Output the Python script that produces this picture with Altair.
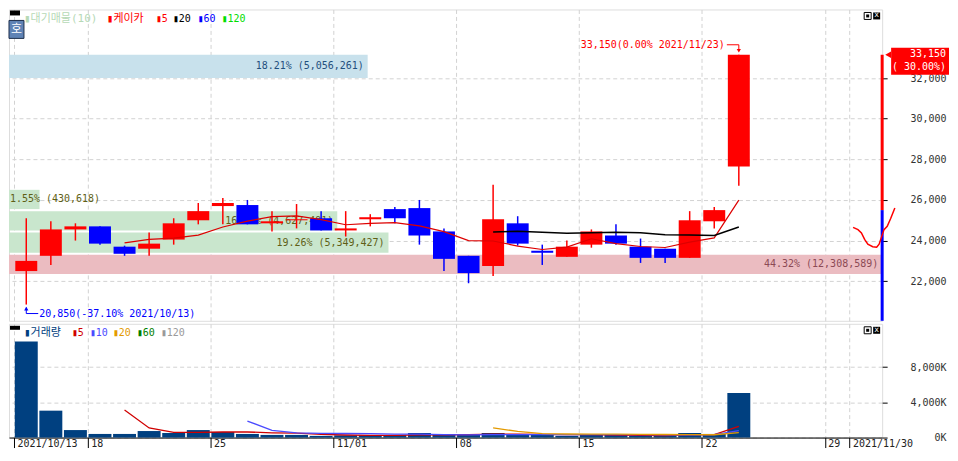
import pandas as pd
import altair as alt

# ---- data (케이카, daily) ----
year = "2021"
dates = ["10/13", "10/14", "10/15", "10/18", "10/19", "10/20", "10/21", "10/22",
         "10/25", "10/26", "10/27", "10/28", "10/29", "11/01", "11/02", "11/03",
         "11/04", "11/05", "11/08", "11/09", "11/10", "11/11", "11/12", "11/15",
         "11/16", "11/17", "11/18", "11/19", "11/22", "11/23"]
opens = [22500, 23250, 24550, 24700, 23700, 23600, 24050, 25000, 25700, 25750,
         24850, 25000, 25100, 24500, 25050, 25550, 25600, 24450, 23250, 22750,
         24850, 23500, 23200, 23800, 24250, 23700, 23600, 23150, 24950, 27650]
highs = [25100, 24950, 24850, 24700, 23750, 24400, 25100, 25850, 26100, 26000,
         25450, 25800, 25450, 25450, 25300, 25650, 26000, 24600, 23250, 26750,
         25200, 23800, 24000, 24550, 24800, 24100, 23600, 25450, 25650, 33150]
lows = [20850, 22800, 24000, 23800, 23250, 23250, 23800, 24800, 24800, 24800,
        24450, 24600, 24500, 24200, 24700, 24850, 23800, 22500, 21900, 22250,
        23750, 22800, 23200, 23650, 23800, 22900, 22900, 23150, 24600, 26700]
closes = [23000, 24550, 24700, 23850, 23350, 23850, 24850, 25450, 25850, 24800,
          24950, 25050, 24500, 24600, 25150, 25100, 24250, 23100, 22400, 25050,
          23850, 23400, 23700, 24450, 23850, 23150, 23150, 25000, 25500, 33150]
volumes_k = [10880, 3050, 850, 410, 410, 740, 520, 850, 630, 410,
             300, 300, 190, 250, 250, 280, 520, 300, 300, 520,
             330, 330, 190, 300, 300, 190, 190, 520, 410, 5050]

# moving averages as drawn (they start where the window is full)
ma5 = [23890, 24060, 24120, 24270, 24670, 24960, 25180, 25220, 25030, 24780,
       24850, 24880, 24720, 24440, 24000, 23980, 23730, 23560, 23680, 24090,
       23850, 23710, 23660, 23920, 24130, 25990]
ma20 = [24420, 24460, 24410, 24360, 24390, 24410, 24380, 24290, 24270, 24250, 24670]
vol_ma5 = [3120, 1092, 586, 586, 630, 630, 542, 498, 366, 290, 258, 254, 298,
           320, 330, 384, 394, 356, 334, 334, 290, 262, 234, 300, 322, 1272]
vol_ma10 = [1875, 817, 542, 476, 460, 444, 398, 398, 343, 310, 321, 324, 327,
            327, 332, 337, 328, 295, 317, 328, 781]
vol_ma20 = [1098, 700, 435, 402, 396, 391, 363, 347, 330, 319, 551]

# overhead supply (대기매물) bands
supply_lo = [22350, 23400, 24500, 25550, 32000]
supply_hi = [23300, 24400, 25450, 26500, 33150]
supply_vol = [12308589, 5349427, 4627491, 430618, 5056261]
supply_pct = [44.32, 19.26, 16.66, 1.55, 18.21]
supply_kind = ["max", "other", "other", "other", "current"]

# little red trace beside the price axis
tail_x = [34.15, 34.35, 34.49, 34.62, 34.75, 34.95, 35.11, 35.21, 35.32, 35.41, 35.54, 35.68, 35.85]
tail_p = [24650, 24540, 24380, 24060, 23820, 23700, 23670, 23820, 24220, 24540, 24700, 25090, 25600]

tick_pos = [0, 3, 8, 13, 18, 23, 28, 33, 34]
tick_lab = ["2021/10/13", "18", "25", "11/01", "08", "15", "22", "29", "2021/11/30"]
price_ticks = [22000, 24000, 26000, 28000, 30000, 32000]
vol_ticks = [0, 4000, 8000]

# ---- look ----
W, H1, H2 = 875, 312, 114
MONO = "DejaVu Sans Mono"
KR = "'DejaVu Sans Mono', 'Noto Sans CJK KR'"
GRID = "#d2d2d2"
RED, BLUE = "#ff0000", "#0000ff"
kind_fill = {"max": "#ebbcc1", "other": "#c9e6cd", "current": "#c8e1ec"}
kind_text = {"max": "#8c4a55", "other": "#5f5f16", "current": "#1f4f7e"}

n = len(dates)
candles = pd.DataFrame({"date": dates, "open": opens, "high": highs, "low": lows,
                        "close": closes, "vol": volumes_k})
candles["xc"] = candles.index + 0.5
candles["col"] = [RED if c >= o else BLUE for o, c in zip(opens, closes)]


def ma_frame(vals):
    start = n - len(vals)
    return pd.DataFrame({"xc": [i + 0.5 for i in range(start, n)], "v": vals})


x_scale = alt.Scale(domain=[0, 35.13], nice=False, zero=False)
p_scale = alt.Scale(domain=[20050, 35380], nice=False, zero=False)
v_scale = alt.Scale(domain=[0, 12900], nice=False, zero=True)

top_x_axis = alt.Axis(values=tick_pos, labels=False, ticks=False, domain=False, grid=True,
                      gridColor=GRID, gridDash=[4, 3], title=None)
label_expr = " : ".join(f"datum.value == {p} ? '{l}'" for p, l in zip(tick_pos, tick_lab)) + " : ''"
bot_x_axis = alt.Axis(values=tick_pos, labelExpr=label_expr, grid=True, gridColor=GRID,
                      gridDash=[4, 3], tickSize=10, tickColor="black", domainColor="black",
                      labelAlign="left", labelBaseline="top", labelPadding=-9, labelOffset=3,
                      labelFlush=False, labelOverlap=False, labelFont=MONO, labelFontSize=10,
                      labelColor="#222222", title=None)
price_axis = alt.Axis(orient="right", values=price_ticks, labelExpr="format(datum.value, ',')",
                      grid=True, gridColor=GRID, gridDash=[4, 3], domain=False, tickSize=5,
                      tickColor="black", labelAlign="right", labelPadding=59, labelFont=MONO,
                      labelFontSize=10, labelColor="#333333", title=None)
vol_axis = alt.Axis(orient="right", values=vol_ticks, labelExpr="format(datum.value, ',') + 'K'",
                    grid=True, gridColor=GRID, gridDash=[4, 3], domain=False, tickSize=5,
                    tickColor="black", labelAlign="right", labelPadding=59, labelFont=MONO,
                    labelFontSize=10, labelColor="#333333", title=None)


def px(field):
    return alt.X(field, type="quantitative", scale=x_scale, axis=top_x_axis)


def py(field):
    return alt.Y(field, type="quantitative", scale=p_scale, axis=price_axis)


one = pd.DataFrame({"k": [0]})


def text_at(label, color, x, y, size=10, font=MONO, align="left"):
    return alt.Chart(pd.DataFrame({"t": [label]})).mark_text(
        align=align, baseline="middle", font=font, fontSize=size, color=color
    ).encode(x=alt.value(x), y=alt.value(y), text="t:N")


def box(x1, x2, y1, y2, **kw):
    return alt.Chart(one).mark_rect(**kw).encode(
        x=alt.value(x1), x2=alt.value(x2), y=alt.value(y1), y2=alt.value(y2))


def icons():
    return alt.layer(
        box(W - 18, W - 11, 3, 10, fill="white", stroke="black", strokeWidth=1),
        box(W - 16, W - 13, 5, 8, color="black"),
        box(W - 9, W - 2, 3, 10, color="black"),
        text_at("x", "white", W - 5.5, 6, size=8, align="center"),
    )


# ---- price panel ----
supply = pd.DataFrame({"lo": supply_lo, "hi": supply_hi, "vol": supply_vol, "pct": supply_pct})
supply["mid"] = (supply["lo"] + supply["hi"]) / 2
supply["label"] = [f"{p:.2f}% ({v:,})" for p, v in zip(supply_pct, supply_vol)]
supply["fill_c"] = [kind_fill[k] for k in supply_kind]
supply["text_c"] = [kind_text[k] for k in supply_kind]
wide = supply[supply["vol"] > max(supply_vol) * 0.1]
narrow = supply[supply["vol"] <= max(supply_vol) * 0.1]
sx = alt.X("vol:Q", scale=alt.Scale(domain=[0, max(supply_vol)], nice=False), axis=None)

supply_bars = alt.Chart(supply).mark_rect().encode(
    x=sx, x2=alt.value(0), y=py("lo"), y2="hi", fill=alt.Fill("fill_c:N", scale=None))
supply_lab_w = alt.Chart(wide).mark_text(
    align="right", baseline="middle", dx=-4, font=MONO, fontSize=10
).encode(x=sx, y=py("mid"), text="label:N", color=alt.Color("text_c:N", scale=None))
supply_lab_n = alt.Chart(narrow).mark_text(
    align="left", baseline="middle", dx=1, font=MONO, fontSize=10
).encode(x=alt.value(0), y=py("mid"), text="label:N", color=alt.Color("text_c:N", scale=None))
supply_group = alt.layer(supply_bars, supply_lab_w, supply_lab_n)

wicks = alt.Chart(candles).mark_rule(strokeWidth=1.5).encode(
    x=px("xc"), y=py("low"), y2="high", color=alt.Color("col:N", scale=None))
bodies = alt.Chart(candles).mark_bar(size=22).encode(
    x=px("xc"), y=py("open"), y2="close", color=alt.Color("col:N", scale=None))
ma5_line = alt.Chart(ma_frame(ma5)).mark_line(color="#dd0000", strokeWidth=1.2).encode(
    x=px("xc"), y=py("v"))
ma20_line = alt.Chart(ma_frame(ma20)).mark_line(color="black", strokeWidth=1.5).encode(
    x=px("xc"), y=py("v"))

last, prev = closes[-1], closes[-2]
imax = highs.index(max(highs))
imin = lows.index(min(lows))
hi_txt = f"{highs[imax]:,}({(highs[imax] / last - 1) * 100:.2f}% {year}/{dates[imax]})"
lo_txt = f"{lows[imin]:,}({(lows[imin] / last - 1) * 100:.2f}% {year}/{dates[imin]})"
hi_df = pd.DataFrame({"x": [imax + 0.5], "p": [highs[imax]], "t": [hi_txt]})
lo_df = pd.DataFrame({"x": [imin + 0.5], "p": [lows[imin]], "t": [lo_txt]})

hi_label = alt.layer(
    alt.Chart(hi_df).mark_text(align="right", baseline="middle", dx=-14, dy=-10,
                               font=MONO, fontSize=10, color=RED).encode(x=px("x"), y=py("p"), text="t:N"),
    alt.Chart(hi_df).mark_rule(color=RED, xOffset=-12, yOffset=-10).encode(
        x=px("x"), x2="x", y=py("p")),
    alt.Chart(hi_df).mark_rule(color=RED, yOffset=-10, y2Offset=-4).encode(
        x=px("x"), y=py("p"), y2="p"),
    alt.Chart(hi_df).mark_point(shape="triangle-down", filled=True, size=18, opacity=1,
                                color=RED, yOffset=-4).encode(x=px("x"), y=py("p")),
)
lo_label = alt.layer(
    alt.Chart(lo_df).mark_text(align="left", baseline="middle", dx=13, dy=9,
                               font=MONO, fontSize=10, color=BLUE).encode(x=px("x"), y=py("p"), text="t:N"),
    alt.Chart(lo_df).mark_rule(color=BLUE, x2Offset=12, yOffset=9).encode(
        x=px("x"), x2="x", y=py("p")),
    alt.Chart(lo_df).mark_rule(color=BLUE, yOffset=3, y2Offset=9).encode(
        x=px("x"), y=py("p"), y2="p"),
    alt.Chart(lo_df).mark_point(shape="triangle-up", filled=True, size=18, opacity=1,
                                color=BLUE, yOffset=4).encode(x=px("x"), y=py("p")),
)

tag_df = pd.DataFrame({"p": [last], "prev": [prev], "a": [f"{last:,}"],
                       "b": [f"({(last / prev - 1) * 100:6.2f}%)"]})
range_bar = alt.layer(
    alt.Chart(tag_df).mark_rule(color=RED, strokeWidth=3).encode(
        x=alt.value(W), y=py("p"), y2="prev"),
    alt.Chart(tag_df).mark_rule(color=BLUE, strokeWidth=3).encode(
        x=alt.value(W), y=py("prev"), y2=alt.value(H1)),
)
tail = alt.Chart(pd.DataFrame({"x": tail_x, "p": tail_p})).mark_line(
    color=RED, strokeWidth=1.5).encode(x=px("x"), y=py("p"))

price_tag = alt.layer(
    alt.Chart(tag_df).mark_rect(color=RED, yOffset=-7, y2Offset=20).encode(
        x=alt.value(W + 9), x2=alt.value(W + 67), y=py("p"), y2="p"),
    alt.Chart(tag_df).mark_point(shape="triangle-left", filled=True, size=45, opacity=1,
                                 color=RED).encode(x=alt.value(W + 6), y=py("p")),
    alt.Chart(tag_df).mark_text(align="right", baseline="middle", dy=-1, font=MONO,
                                fontSize=10, color="white").encode(
        x=alt.value(W + 64), y=py("p"), text="a:N"),
    alt.Chart(tag_df).mark_text(align="right", baseline="middle", dy=12, font=MONO,
                                fontSize=10, color="white").encode(
        x=alt.value(W + 64), y=py("p"), text="b:N"),
)

top_legend = alt.layer(
    box(1, 11, 1, 6, color="black"),
    box(0, 15, 11, 29, color="#5f83b5", stroke="#1e2e4a", strokeWidth=1),
    text_at("호", "white", 7.5, 20, size=12, font="Noto Sans CJK KR", align="center"),
    text_at("▮대기매물(10)", "#b6d9b6", 15, 10, size=11, font=KR),
    text_at("▮케이카", RED, 98, 10, size=11, font=KR),
    text_at("▮5", RED, 147, 10),
    text_at("▮20", "black", 164, 10),
    text_at("▮60", BLUE, 189, 10),
    text_at("▮120", "#00dd00", 213, 10),
    icons(),
)

main_group = alt.layer(wicks, bodies, ma5_line, ma20_line, hi_label, lo_label,
                       range_bar, tail, price_tag, top_legend)
price_panel = alt.layer(supply_group, main_group).resolve_scale(x="independent").properties(
    width=W, height=H1)

# ---- volume panel ----
bx = alt.X("xc:Q", scale=x_scale, axis=bot_x_axis)
vy = alt.Y("v:Q", scale=v_scale, axis=vol_axis)
vol_bars = alt.Chart(candles).mark_bar(size=23, color="#004080").encode(
    x=bx, y=alt.Y("vol:Q", scale=v_scale, axis=vol_axis))
vol_lines = [
    alt.Chart(ma_frame(vals)).mark_line(color=c, strokeWidth=1.3).encode(x=bx, y=vy)
    for vals, c in [(vol_ma5, "#d00000"), (vol_ma10, "#4b4bff"), (vol_ma20, "#e39a00")]
]
vol_legend = alt.layer(
    box(1, 11, 2, 6, color="black"),
    text_at("▮거래량", "#004080", 15, 9, size=11, font=KR),
    text_at("▮5", "#d00000", 63, 9),
    text_at("▮10", "#4b4bff", 81, 9),
    text_at("▮20", "#e39a00", 104, 9),
    text_at("▮60", "#008000", 128, 9),
    text_at("▮120", "#9a9a9a", 152, 9),
    icons(),
)
volume_panel = alt.layer(vol_bars, *vol_lines, vol_legend).properties(width=W, height=H2)

chart = alt.vconcat(price_panel, volume_panel, spacing=0).properties(
    padding={"left": 0, "top": 0, "right": 0, "bottom": 0}
).configure_view(stroke="black", strokeWidth=1.5).configure(background="white")

chart.save("out.html", embed_options={"renderer": "svg", "actions": False})
